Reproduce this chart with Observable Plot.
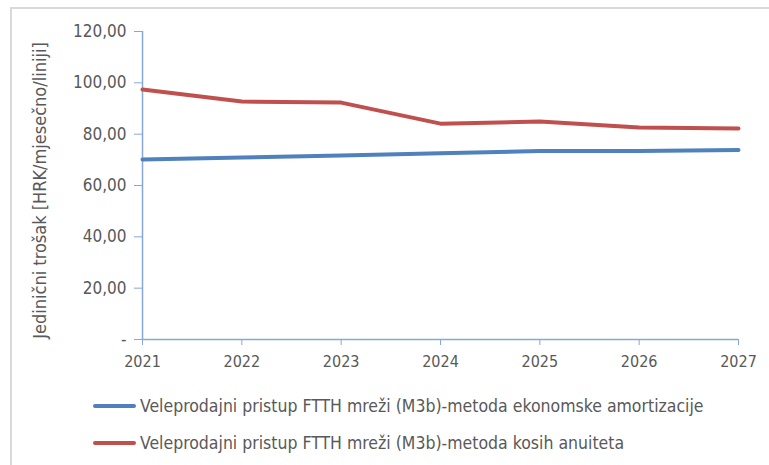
<!DOCTYPE html>
<html>
<head>
<meta charset="utf-8">
<script src="https://cdn.jsdelivr.net/npm/d3@7"></script>
<script src="https://cdn.jsdelivr.net/npm/@observablehq/plot@0.6"></script>
<style>
  html, body { margin: 0; padding: 0; background: #fff; }
  body { width: 769px; height: 465px; position: relative; overflow: hidden; font-family: "DejaVu Sans Condensed", "Open Sans", sans-serif; }
  #frame { position: absolute; left: 10px; top: 7px; width: 780px; height: 470px; border-top: 2px solid #d9d9d9; border-left: 2px solid #d9d9d9; }
  #chart { position: absolute; left: 0; top: 0; }
  #legend { position: absolute; left: 0; top: 380px; width: 769px; }
  .item { position: absolute; left: 93px; display: flex; align-items: center; font-size: 17.5px; color: #595959; white-space: nowrap; }
  .swatch { width: 43px; height: 4px; border-radius: 2px; margin-right: 4px; }
</style>
</head>
<body>
<div id="frame"></div>
<div id="chart"></div>
<div id="legend"></div>
<script>
const years = [2021, 2022, 2023, 2024, 2025, 2026, 2027];
const seriesNames = [
  "Veleprodajni pristup FTTH mreži (M3b)-metoda ekonomske amortizacije",
  "Veleprodajni pristup FTTH mreži (M3b)-metoda kosih anuiteta"
];
const ekonomska = [70.1, 70.9, 71.7, 72.6, 73.4, 73.4, 73.8];
const kosi = [97.4, 92.7, 92.3, 84.1, 84.9, 82.6, 82.2];
const seriesColors = ["#4F81BD", "#C0504D"];
const yTicks = [0, 20, 40, 60, 80, 100, 120];
const yLabel = "Jedinični trošak [HRK/mjesečno/liniji]";

const rows = [];
[ekonomska, kosi].forEach((vals, s) => vals.forEach((v, i) => rows.push({year: years[i], value: v, series: seriesNames[s]})));

const fmt = v => v === 0 ? "-" : v.toFixed(2).replace(".", ",");
const axisColor = "#86A8D8";
const textColor = "#595959";
const font = "'DejaVu Sans Condensed', 'Open Sans', sans-serif";

const plot = Plot.plot({
  width: 769,
  height: 380,
  marginLeft: 142,
  marginRight: 31,
  marginTop: 31,
  marginBottom: 41,
  style: {fontFamily: font, fontSize: "15px", color: textColor, background: "transparent", overflow: "visible"},
  x: {domain: [2021, 2027], type: "linear"},
  y: {domain: [0, 120]},
  color: {domain: seriesNames, range: seriesColors},
  marks: [
    Plot.ruleY([0], {stroke: axisColor, strokeWidth: 1.5}),
    Plot.ruleX([2021], {stroke: axisColor, strokeWidth: 1.5}),
    Plot.axisY({ticks: yTicks, tickFormat: fmt, tickSize: 8, tickPadding: 8, stroke: axisColor, strokeOpacity: 1, label: null, fill: textColor, fontSize: 17}),
    Plot.axisX({ticks: years, tickFormat: d => String(d), tickSize: 6, tickPadding: 10, stroke: axisColor, strokeOpacity: 1, label: null, fill: textColor, fontSize: 16}),
    Plot.text([yLabel], {frameAnchor: "left", textAnchor: "middle", dx: -102, dy: 5, rotate: -90, fill: textColor, fontSize: 18}),
    Plot.line(rows, {x: "year", y: "value", z: "series", stroke: "series", strokeWidth: 4})
  ]
});
document.getElementById("chart").appendChild(plot);

const legend = document.getElementById("legend");
seriesNames.forEach((name, i) => {
  const item = document.createElement("div");
  item.className = "item";
  item.style.top = (i === 0 ? 16 : 53) + "px";
  const sw = document.createElement("div");
  sw.className = "swatch";
  sw.style.background = seriesColors[i];
  item.appendChild(sw);
  const tx = document.createElement("span");
  tx.textContent = name;
  item.appendChild(tx);
  legend.appendChild(item);
});
</script>
</body>
</html>
